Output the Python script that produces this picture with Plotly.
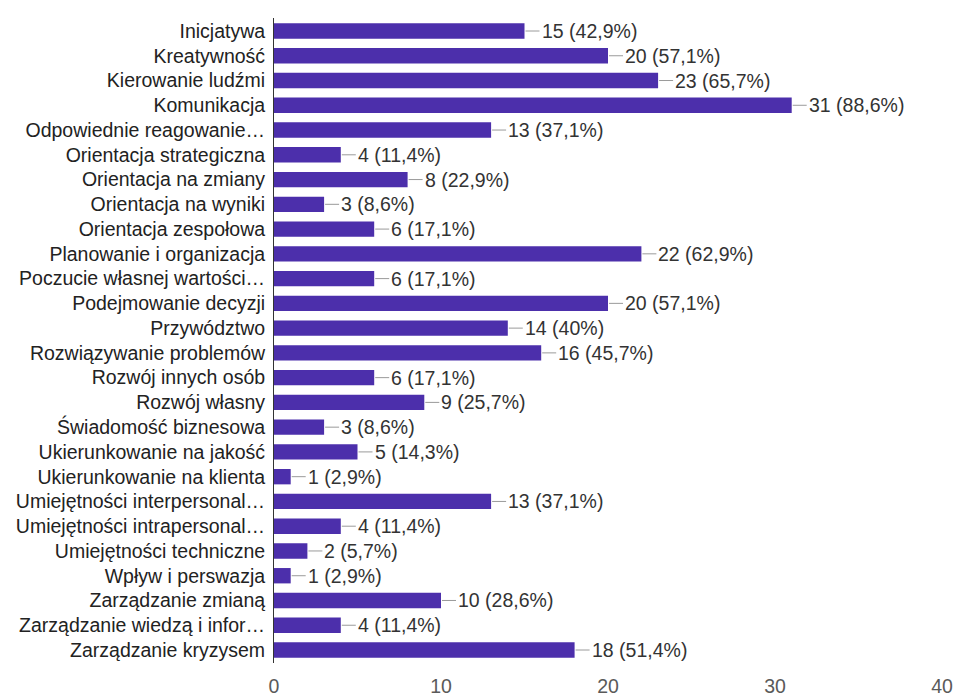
import plotly.graph_objects as go

# Competency names (as shown on the axis, truncated ones end with an ellipsis)
categories = [
    "Inicjatywa",
    "Kreatywność",
    "Kierowanie ludźmi",
    "Komunikacja",
    "Odpowiednie reagowanie…",
    "Orientacja strategiczna",
    "Orientacja na zmiany",
    "Orientacja na wyniki",
    "Orientacja zespołowa",
    "Planowanie i organizacja",
    "Poczucie własnej wartości…",
    "Podejmowanie decyzji",
    "Przywództwo",
    "Rozwiązywanie problemów",
    "Rozwój innych osób",
    "Rozwój własny",
    "Świadomość biznesowa",
    "Ukierunkowanie na jakość",
    "Ukierunkowanie na klienta",
    "Umiejętności interpersonal…",
    "Umiejętności intrapersonal…",
    "Umiejętności techniczne",
    "Wpływ i perswazja",
    "Zarządzanie zmianą",
    "Zarządzanie wiedzą i infor…",
    "Zarządzanie kryzysem",
]

# Number of respondents choosing each competency
counts = [15, 20, 23, 31, 13, 4, 8, 3, 6, 22, 6, 20, 14, 16, 6, 9, 3, 5, 1, 13, 4, 2, 1, 10, 4, 18]

# Total number of respondents
total_respondents = 35

x_ticks = [0, 10, 20, 30, 40]

BAR_COLOR = "#4c2fab"
FONT = "Liberation Sans, Arial, sans-serif"
FONT_SIZE = 19.5


def pct_text(v):
    p = f"{v / total_respondents * 100:.1f}"
    if p.endswith(".0"):
        p = p[:-2]
    return p.replace(".", ",")


labels = [f"{v} ({pct_text(v)}%)" for v in counts]

fig = go.Figure(
    go.Bar(
        x=counts,
        y=categories,
        orientation="h",
        marker=dict(color=BAR_COLOR, line=dict(width=0)),
        width=0.62,
        hoverinfo="skip",
    )
)

# Leader line and value label next to each bar
for cat, v, lab in zip(categories, counts, labels):
    fig.add_shape(
        type="line",
        xref="x",
        yref="y",
        xsizemode="pixel",
        xanchor=v,
        x0=1,
        x1=15,
        y0=cat,
        y1=cat,
        line=dict(color="#9a9a9a", width=1),
    )
    fig.add_annotation(
        x=v,
        y=cat,
        xref="x",
        yref="y",
        text=lab,
        showarrow=False,
        xanchor="left",
        yanchor="middle",
        xshift=15,
        font=dict(family=FONT, size=FONT_SIZE, color="#333333"),
    )

fig.update_layout(
    width=956,
    height=696,
    margin=dict(l=274, r=14, t=18, b=33),
    paper_bgcolor="white",
    plot_bgcolor="white",
    showlegend=False,
    font=dict(family=FONT, size=FONT_SIZE, color="#222222"),
    xaxis=dict(
        range=[0, 40],
        tickvals=x_ticks,
        ticktext=[str(t) for t in x_ticks],
        showgrid=False,
        zeroline=False,
        showline=False,
        ticks="",
        ticklabelstandoff=9,
        automargin=False,
        tickfont=dict(family=FONT, size=FONT_SIZE, color="#5a5a5a"),
        fixedrange=True,
    ),
    yaxis=dict(
        autorange="reversed",
        showgrid=False,
        zeroline=False,
        showline=True,
        linecolor="#333333",
        linewidth=1,
        ticks="",
        ticklabelstandoff=4,
        automargin=False,
        tickfont=dict(family=FONT, size=FONT_SIZE, color="#222222"),
        fixedrange=True,
    ),
)

fig.write_html("out.html")
